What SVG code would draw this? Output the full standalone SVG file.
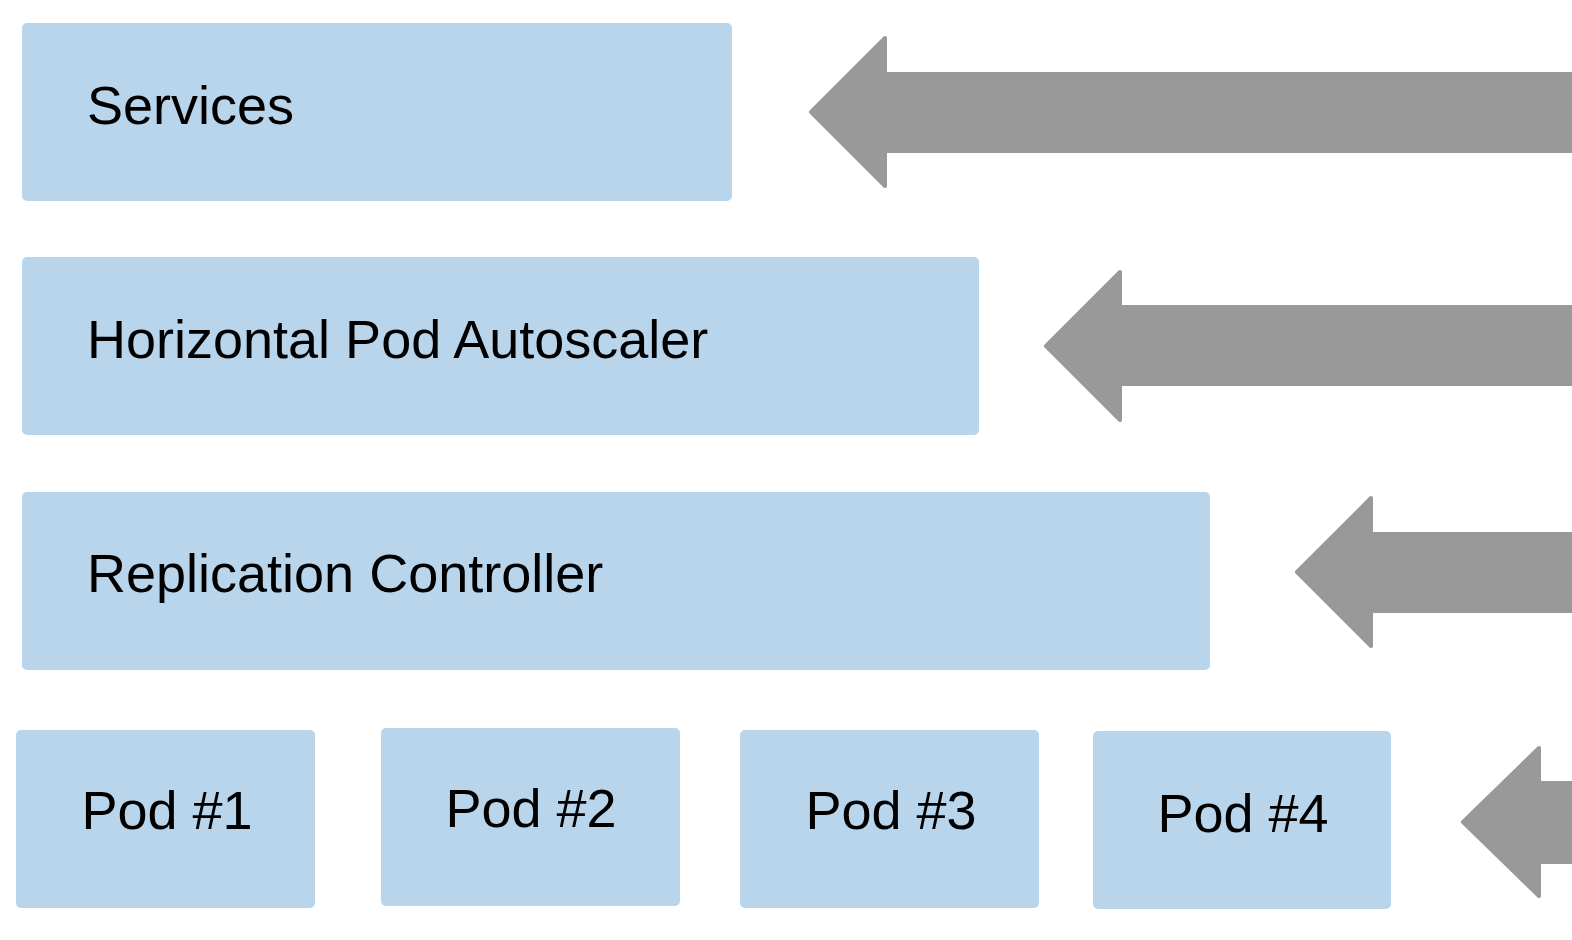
<svg xmlns="http://www.w3.org/2000/svg" width="1572" height="940" viewBox="0 0 1572 940">
<style>
.box{fill:#b9d5ec;}
.lbl{font-family:"Liberation Sans",Arial,sans-serif;font-size:54px;fill:#000;}
.c{text-anchor:middle;}
.arr{fill:#999999;stroke:#999999;stroke-width:4;stroke-linejoin:round;}
</style>
<rect width="1572" height="940" fill="#ffffff"/>
<g id="services"><rect class="box" x="22" y="23" width="710" height="178" rx="5"/><text class="lbl" x="87" y="124">Services</text></g>
<g id="hpa"><rect class="box" x="22" y="257" width="957" height="178" rx="5"/><text class="lbl" x="87" y="358">Horizontal Pod Autoscaler</text></g>
<g id="rc"><rect class="box" x="22" y="492" width="1188" height="178" rx="5"/><text class="lbl" x="87" y="592">Replication Controller</text></g>
<g id="pod1"><rect class="box" x="16" y="730" width="299" height="178" rx="5"/><text class="lbl c" x="167" y="829">Pod #1</text></g>
<g id="pod2"><rect class="box" x="381" y="728" width="299" height="178" rx="5"/><text class="lbl c" x="531" y="827">Pod #2</text></g>
<g id="pod3"><rect class="box" x="740" y="730" width="299" height="178" rx="5"/><text class="lbl c" x="891" y="829">Pod #3</text></g>
<g id="pod4"><rect class="box" x="1093" y="731" width="298" height="178" rx="5"/><text class="lbl c" x="1243" y="832">Pod #4</text></g>
<g id="connectors">
<path class="arr" d="M1574,74 L885,74 L885,38 L811,112 L885,186 L885,151 L1574,151 Z"/>
<path class="arr" d="M1574,307 L1120,307 L1120,272 L1046,346 L1120,420 L1120,384 L1574,384 Z"/>
<path class="arr" d="M1574,534 L1371,534 L1371,498 L1297,572 L1371,646 L1371,611 L1574,611 Z"/>
<path class="arr" d="M1574,783 L1539,783 L1539,748 L1463,822 L1539,896 L1539,862 L1574,862 Z"/>
</g>
</svg>
